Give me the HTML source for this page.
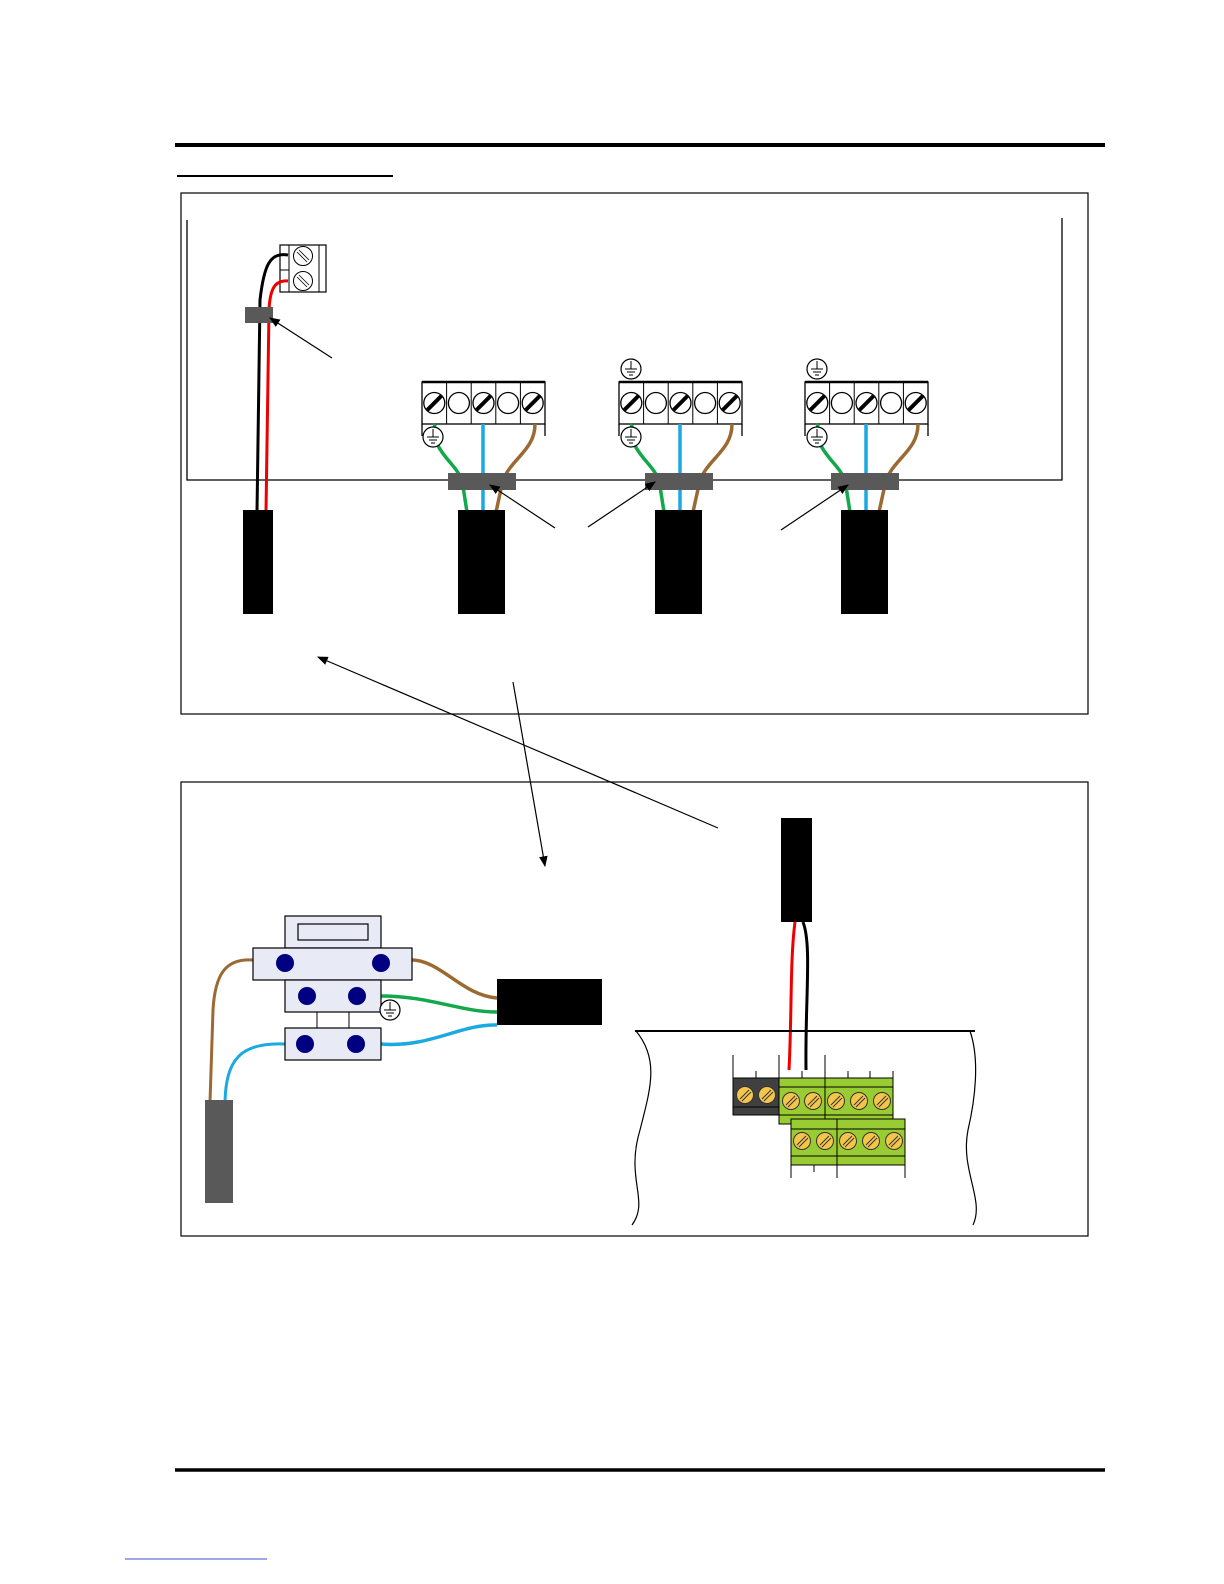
<!DOCTYPE html>
<html><head><meta charset="utf-8"><style>html,body{margin:0;padding:0;background:#fff;width:1224px;height:1584px;overflow:hidden}svg{display:block}</style></head><body>
<svg width="1224" height="1584" viewBox="0 0 1224 1584" xmlns="http://www.w3.org/2000/svg" font-family="Liberation Sans, sans-serif">
<defs>
<marker id="ah" viewBox="0 0 10 10" refX="9" refY="5" markerWidth="9" markerHeight="9" orient="auto"><path d="M0,1 L10,5 L0,9 z" fill="#000"/></marker>
<g id="scr"><circle r="10.5" fill="#fff" stroke="#000" stroke-width="1.3"/><line x1="-7" y1="7" x2="7" y2="-7" stroke="#000" stroke-width="4"/></g>
<g id="ocirc"><circle r="10.5" fill="#fff" stroke="#000" stroke-width="1.3"/></g>
<g id="gnd"><circle r="10" fill="#fff" stroke="#000" stroke-width="1.2"/><line x1="0" y1="-8" x2="0" y2="0" stroke="#000"/><line x1="-6" y1="0" x2="6" y2="0" stroke="#000"/><line x1="-4" y1="3" x2="4" y2="3" stroke="#000"/><line x1="-2" y1="6" x2="2" y2="6" stroke="#000"/></g>
<g id="tb">
<rect x="0" y="0" width="123" height="42" fill="#fff" stroke="#000" stroke-width="1.3"/>
<line x1="0" y1="0" x2="123" y2="0" stroke="#000" stroke-width="2.5"/>
<line x1="24.6" y1="0" x2="24.6" y2="42" stroke="#000"/><line x1="49.2" y1="0" x2="49.2" y2="42" stroke="#000"/><line x1="73.8" y1="0" x2="73.8" y2="42" stroke="#000"/><line x1="98.4" y1="0" x2="98.4" y2="42" stroke="#000"/>
<line x1="0" y1="42" x2="0" y2="54" stroke="#000" stroke-width="1.3"/><line x1="123" y1="42" x2="123" y2="54" stroke="#000" stroke-width="1.3"/>
<use href="#scr" x="12.3" y="21"/><use href="#ocirc" x="36.9" y="21"/><use href="#scr" x="61.5" y="21"/><use href="#ocirc" x="86.1" y="21"/><use href="#scr" x="110.7" y="21"/>
</g>
<g id="ys"><circle r="8.5" fill="#f3c548" stroke="#333" stroke-width="1"/><line x1="-5" y1="4" x2="4" y2="-5" stroke="#333"/><line x1="-3" y1="6" x2="6" y2="-3" stroke="#333"/></g>
</defs>
<line x1="175" y1="145" x2="1105" y2="145" stroke="#000" stroke-width="4"/>
<line x1="177" y1="176" x2="393" y2="176" stroke="#000" stroke-width="2"/>
<line x1="175" y1="1470" x2="1105" y2="1470" stroke="#000" stroke-width="3.5"/>
<line x1="125" y1="1559" x2="267" y2="1559" stroke="#3355cc" stroke-width="1"/>

<rect x="181" y="193" width="907" height="521" fill="none" stroke="#000" stroke-width="1.2"/>
<path d="M187,220 V480 H1062 V218" fill="none" stroke="#000" stroke-width="1.3"/>

<rect x="280" y="245" width="46" height="47" fill="#fff" stroke="#000" stroke-width="1.2"/>
<line x1="289" y1="245" x2="289" y2="292" stroke="#000"/><line x1="319" y1="245" x2="319" y2="292" stroke="#000"/>
<line x1="280" y1="270" x2="289" y2="270" stroke="#000"/>
<g stroke="#000" fill="#fff"><circle cx="303" cy="256" r="9.5"/><circle cx="303" cy="281" r="9.5"/></g>
<g stroke="#000" stroke-width="0.8"><line x1="297" y1="252" x2="307" y2="262"/><line x1="299" y1="250" x2="309" y2="260"/><line x1="297" y1="277" x2="307" y2="287"/><line x1="299" y1="275" x2="309" y2="285"/></g>
<path d="M288,255 C270,252 264,265 260,300 L257,512" fill="none" stroke="#000" stroke-width="3"/>
<path d="M288,281 C274,280 270,290 269,310 L266,512" fill="none" stroke="#e00" stroke-width="3"/>
<rect x="245" y="307" width="28" height="16" fill="#595959"/>
<line x1="332" y1="358" x2="270" y2="318" stroke="#000" stroke-width="1.2" marker-end="url(#ah)"/>
<rect x="243" y="510" width="30" height="104" fill="#000"/>

<g id="m1">
<use href="#tb" x="422" y="382"/>
<path d="M435,424 C430,450 455,462 462,480 L467,512" fill="none" stroke="#12a84b" stroke-width="3.5"/>
<path d="M483,424 V512" fill="none" stroke="#1ba9e1" stroke-width="3.5"/>
<path d="M535,424 C535,450 512,458 503,480 L496,512" fill="none" stroke="#9a6a32" stroke-width="3.5"/>
<rect x="448" y="473" width="68" height="17" fill="#595959"/>
<rect x="458" y="510" width="47" height="104" fill="#000"/>
</g>
<use href="#gnd" x="433" y="437"/>
<use href="#m1" x="197" y="0"/>
<use href="#m1" x="383" y="0"/>
<use href="#gnd" x="631" y="437"/><use href="#gnd" x="817" y="437"/>
<use href="#gnd" x="631" y="369"/><use href="#gnd" x="817" y="369"/>
<line x1="555" y1="528" x2="490" y2="485" stroke="#000" stroke-width="1.2" marker-end="url(#ah)"/>
<line x1="588" y1="527" x2="655" y2="482" stroke="#000" stroke-width="1.2" marker-end="url(#ah)"/>
<line x1="781" y1="530" x2="848" y2="485" stroke="#000" stroke-width="1.2" marker-end="url(#ah)"/>

<line x1="718" y1="828" x2="318" y2="657" stroke="#000" stroke-width="1.2" marker-end="url(#ah)"/>
<line x1="513" y1="682" x2="545" y2="866" stroke="#000" stroke-width="1.2" marker-end="url(#ah)"/>

<rect x="181" y="782" width="907" height="454" fill="none" stroke="#000" stroke-width="1.2"/>

<path d="M253,960 C225,958 215,975 213,1010 L210,1102" fill="none" stroke="#9a6a32" stroke-width="3"/>
<path d="M285,1044 C240,1042 226,1060 225,1102" fill="none" stroke="#1ba9e1" stroke-width="3"/>
<path d="M408,960 C440,958 460,995 497,998" fill="none" stroke="#9a6a32" stroke-width="3.5"/>
<path d="M381,996 C430,996 460,1012 497,1012" fill="none" stroke="#12a84b" stroke-width="3.5"/>
<path d="M381,1044 C430,1048 460,1024 497,1025" fill="none" stroke="#1ba9e1" stroke-width="3.5"/>
<g fill="#e8eaf5" stroke="#000" stroke-width="1.2">
<rect x="285" y="916" width="96" height="32"/>
<rect x="298" y="924" width="70" height="16"/>
<rect x="253" y="948" width="159" height="32"/>
<rect x="285" y="980" width="96" height="32"/>
<rect x="285" y="1028" width="96" height="32"/>
</g>
<line x1="317" y1="1012" x2="317" y2="1028" stroke="#000"/><line x1="349" y1="1012" x2="349" y2="1028" stroke="#000"/>
<g fill="#000080"><circle cx="285" cy="963" r="9"/><circle cx="381" cy="963" r="9"/><circle cx="307" cy="996" r="9"/><circle cx="357" cy="996" r="9"/><circle cx="305" cy="1044" r="9"/><circle cx="356" cy="1044" r="9"/></g>
<use href="#gnd" x="390" y="1010"/>
<rect x="497" y="979" width="105" height="46" fill="#000"/>
<rect x="205" y="1100" width="28" height="103" fill="#595959"/>

<rect x="781" y="818" width="31" height="104" fill="#000"/>
<path d="M795,922 C790,960 792,1010 789,1070" fill="none" stroke="#e00" stroke-width="3"/>
<path d="M803,922 C812,945 805,1000 806,1070" fill="none" stroke="#000" stroke-width="3"/>
<line x1="635" y1="1031" x2="975" y2="1031" stroke="#000" stroke-width="2"/>
<path d="M636,1031 C660,1060 650,1090 640,1130 C625,1180 650,1200 632,1225" fill="none" stroke="#000" stroke-width="1.2"/>
<path d="M970,1031 C980,1060 975,1100 968,1130 C960,1170 985,1200 973,1225" fill="none" stroke="#000" stroke-width="1.2"/>
<g stroke="#000" stroke-width="1">
<line x1="733" y1="1055" x2="733" y2="1078"/><line x1="756" y1="1071" x2="756" y2="1078"/><line x1="779" y1="1055" x2="779" y2="1078"/><line x1="802" y1="1071" x2="802" y2="1078"/><line x1="825" y1="1055" x2="825" y2="1078"/><line x1="848" y1="1071" x2="848" y2="1078"/><line x1="870" y1="1071" x2="870" y2="1078"/><line x1="893" y1="1071" x2="893" y2="1078"/>
<line x1="791" y1="1165" x2="791" y2="1178"/><line x1="814" y1="1165" x2="814" y2="1172"/><line x1="837" y1="1165" x2="837" y2="1178"/><line x1="905" y1="1165" x2="905" y2="1178"/>
</g>
<rect x="733" y="1078" width="46" height="37" fill="#404040" stroke="#000"/>
<line x1="733" y1="1107" x2="779" y2="1107" stroke="#000"/>
<rect x="779" y="1078" width="114" height="46" fill="#99cc33" stroke="#000"/>
<line x1="779" y1="1087" x2="893" y2="1087" stroke="#000"/><line x1="779" y1="1115" x2="893" y2="1115" stroke="#000"/><line x1="825" y1="1078" x2="825" y2="1119" stroke="#000"/>
<rect x="791" y="1119" width="114" height="46" fill="#99cc33" stroke="#000"/>
<line x1="791" y1="1129" x2="905" y2="1129" stroke="#000"/><line x1="791" y1="1156" x2="905" y2="1156" stroke="#000"/><line x1="837" y1="1119" x2="837" y2="1165" stroke="#000"/>
<use href="#ys" x="745" y="1095"/><use href="#ys" x="767" y="1095"/>
<use href="#ys" x="791" y="1101"/><use href="#ys" x="813" y="1101"/><use href="#ys" x="836" y="1101"/><use href="#ys" x="859" y="1101"/><use href="#ys" x="882" y="1101"/>
<use href="#ys" x="802" y="1141"/><use href="#ys" x="825" y="1141"/><use href="#ys" x="848" y="1141"/><use href="#ys" x="871" y="1141"/><use href="#ys" x="894" y="1141"/>
</svg>
</body></html>
